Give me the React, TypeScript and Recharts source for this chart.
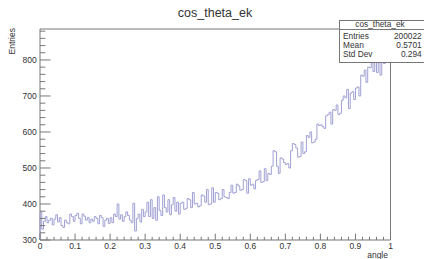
import React from 'react';
import { LineChart, Line, XAxis, YAxis, ReferenceArea } from 'recharts';

// bin contents, 200 bins of width 0.005 over [0, 1]
const binWidth = 0.005;
const counts: number[] = [
  378, 330, 352, 365, 348, 355, 360, 342, 358, 370,
  350, 362, 340, 335, 355, 348, 345, 372, 365, 352,
  368, 374, 360, 345, 372, 366, 355, 362, 348, 358,
  352, 365, 360, 345, 368, 362, 338, 355, 360, 346,
  362, 348, 372, 365, 400, 358, 370, 352, 365, 378,
  368, 355, 348, 402, 325, 360, 372, 350, 385, 365,
  378, 405, 365, 412, 360, 390, 355, 420, 382, 368,
  425, 390, 378, 412, 370, 398, 418, 380, 405, 372,
  402, 405, 385, 388, 415, 412, 390, 432, 400, 402,
  392, 395, 425, 422, 405, 440, 398, 400, 445, 405,
  432, 430, 412, 415, 440, 420, 418, 415, 432, 452,
  430, 432, 455, 450, 438, 440, 468, 465, 430, 470,
  452, 455, 442, 465, 468, 492, 460, 462, 498, 465,
  485, 482, 505, 548, 545, 505, 485, 528, 525, 515,
  510, 512, 500, 548, 568, 565, 555, 530, 532, 572,
  540, 545, 590, 585, 600, 570, 572, 580, 622, 618,
  620, 615, 610, 645, 648, 655, 622, 662, 660, 675,
  648, 652, 688, 700, 695, 718, 665, 708, 712, 690,
  722, 725, 700, 758, 755, 772, 738, 780, 778, 792,
  768, 800, 765, 815, 758, 822, 790, 835, 810, 838,
];

const yMin = 300;
const yMax = 886;
const xMajorTicks = [0, 0.1, 0.2, 0.3, 0.4, 0.5, 0.6, 0.7, 0.8, 0.9, 1];
const yMajorTicks = [300, 400, 500, 600, 700, 800];

const statsRows = [
  ['Entries', '200022'],
  ['Mean', '0.5701'],
  ['Std Dev', '0.294'],
];

const FONT = '"Liberation Sans", Arial, sans-serif';
const AXIS = '#777';
const TEXT = '#333';
const HIST = '#a0a0d4';

// minor ticks: x every 0.02, y every 20
const xTicks = Array.from({ length: 51 }, (_, i) => i / 50);
const yTicks = Array.from({ length: 30 }, (_, i) => 300 + i * 20);

// step outline built from the bin contents
const stepData: { x: number; y: number }[] = [{ x: 0, y: yMin }];
counts.forEach((c, i) => {
  stepData.push({ x: i * binWidth, y: c });
  stepData.push({ x: (i + 1) * binWidth, y: c });
});

const isMajorX = (v: number) => xMajorTicks.some(t => Math.abs(t - v) < 1e-9);

const XTick = (props: any) => {
  const { x, y, payload } = props;
  const v = payload.value as number;
  const major = isMajorX(v);
  const label = v === 0 ? '0' : v === 1 ? '1' : v.toFixed(1);
  return (
    <g>
      <line x1={x} y1={y} x2={x} y2={y - (major ? 6.3 : 3.2)} stroke={AXIS} />
      {major && (
        <text x={x} y={y + 9.3} textAnchor="middle" fontSize={8.5} fontFamily={FONT} fill={TEXT}>
          {label}
        </text>
      )}
    </g>
  );
};

const YTick = (props: any) => {
  const { x, y, payload } = props;
  const v = payload.value as number;
  const major = v % 100 === 0;
  return (
    <g>
      <line x1={x} y1={y} x2={x + (major ? 10.5 : 5.3)} y2={y} stroke={AXIS} />
      {yMajorTicks.includes(v) && (
        <text x={x - 3.3} y={y + 3} textAnchor="end" fontSize={8.5} fontFamily={FONT} fill={TEXT}>
          {v}
        </text>
      )}
    </g>
  );
};

const App = () => {
  return (
    <div style={{ position: 'relative', width: 424, height: 259, background: '#fff' }}>
      <style>{'body{margin:0}'}</style>
      <LineChart
        width={424}
        height={259}
        data={stepData}
        margin={{ top: 29, right: 33.5, bottom: 18, left: 39 }}
      >
        <XAxis
          dataKey="x"
          type="number"
          domain={[0, 1]}
          ticks={xTicks}
          interval={0}
          height={1}
          tickSize={0}
          tickMargin={0}
          axisLine={false}
          tick={<XTick />}
        />
        <YAxis
          type="number"
          domain={[yMin, yMax]}
          allowDataOverflow
          ticks={yTicks}
          interval={0}
          width={1}
          tickSize={0}
          tickMargin={0}
          axisLine={false}
          tick={<YTick />}
        />
        <ReferenceArea x1={0} x2={1} y1={yMin} y2={yMax} fill="none" stroke={AXIS} ifOverflow="visible" />
        <Line
          dataKey="y"
          type="linear"
          stroke={HIST}
          strokeWidth={1}
          dot={false}
          activeDot={false}
          isAnimationActive={false}
        />
      </LineChart>
      <svg
        width={424}
        height={259}
        style={{ position: 'absolute', left: 0, top: 0, pointerEvents: 'none' }}
        fontFamily={FONT}
      >
        <text x={215} y={16.5} textAnchor="middle" fontSize={12.5} fill={TEXT}>cos_theta_ek</text>
        <text transform="translate(15,28) rotate(-90)" textAnchor="end" fontSize={8.5} fill={TEXT}>Entries</text>
        <text x={388} y={257.5} textAnchor="end" fontSize={8.5} fill={TEXT}>angle</text>
        <rect x={339.5} y={20.5} width={90} height={42} fill="#fff" stroke={AXIS} />
        <line x1={339.5} y1={29.5} x2={424} y2={29.5} stroke={AXIS} />
        <text x={380} y={27} textAnchor="middle" fontSize={8.3} fill={TEXT}>cos_theta_ek</text>
        {statsRows.map(([name, value], i) => (
          <g key={name}>
            <text x={343} y={39 + i * 8.9} fontSize={8.3} fill={TEXT}>{name}</text>
            <text x={421.7} y={39 + i * 8.9} textAnchor="end" fontSize={8.3} fill={TEXT}>{value}</text>
          </g>
        ))}
      </svg>
    </div>
  );
};

export default App;
